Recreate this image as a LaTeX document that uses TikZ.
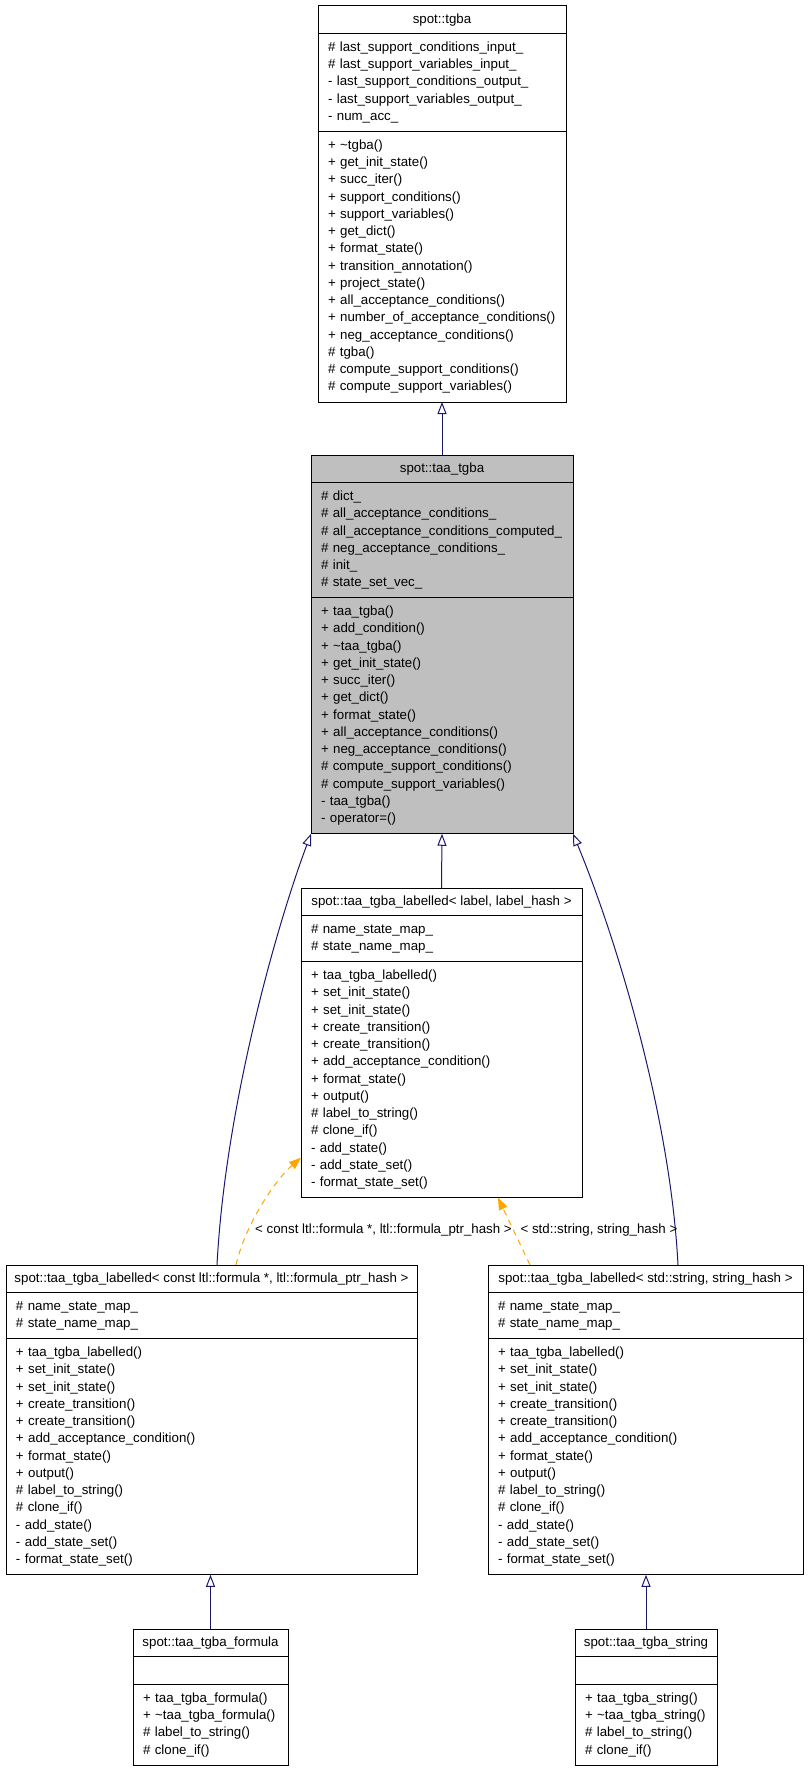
\documentclass[tikz,border=0pt]{standalone}
\usepackage{fontspec}
\setmainfont{Liberation Sans}
\usetikzlibrary{positioning,arrows.meta}
\definecolor{edgeblue}{RGB}{25,25,112}
\definecolor{tmplorange}{RGB}{255,165,0}
% members shared by the three labelled classes
\newcommand{\lblattrs}{\#~name\_state\_map\_\\ \#~state\_name\_map\_}
\newcommand{\lblops}{+~taa\_tgba\_labelled()\\ +~set\_init\_state()\\ +~set\_init\_state()\\
  +~create\_transition()\\ +~create\_transition()\\ +~add\_acceptance\_condition()\\
  +~format\_state()\\ +~output()\\ \#~label\_to\_string()\\ \#~clone\_if()\\
  -~add\_state()\\ -~add\_state\_set()\\ -~format\_state\_set()}
\begin{document}
\begin{tikzpicture}[x=1pt, y=-1pt, line width=1pt,
  font=\fontsize{13.3}{17.25}\selectfont,
  title/.style={draw, minimum width=#1, minimum height=27.5pt, inner xsep=2pt, inner ysep=0pt, outer sep=0pt},
  part/.style={draw, text width=#1, inner xsep=10pt, inner ysep=0pt, outer sep=0pt, align=left},
  isa/.style={edgeblue, -{Triangle[open, length=12pt, width=9pt]}},
  tmpl/.style={tmplorange, dash pattern=on 6pt off 5pt, -{Triangle[length=12pt, width=9pt]}}]
\useasboundingbox (0,0) rectangle (808,1771);

% spot::tgba
\node[title=248pt, anchor=north] (tgba) at (442,6) {spot::tgba};
\node[part=228pt, minimum height=98pt, below=0pt of tgba] (tgba-a) {\#~last\_support\_conditions\_input\_\\
  \#~last\_support\_variables\_input\_\\ -~last\_support\_conditions\_output\_\\
  -~last\_support\_variables\_output\_\\ -~num\_acc\_};
\node[part=228pt, minimum height=270.5pt, below=0pt of tgba-a] (tgba-m) {+~\textasciitilde tgba()\\
  +~get\_init\_state()\\ +~succ\_iter()\\ +~support\_conditions()\\ +~support\_variables()\\
  +~get\_dict()\\ +~format\_state()\\ +~transition\_annotation()\\ +~project\_state()\\
  +~all\_acceptance\_conditions()\\ +~number\_of\_acceptance\_conditions()\\
  +~neg\_acceptance\_conditions()\\ \#~tgba()\\ \#~compute\_support\_conditions()\\
  \#~compute\_support\_variables()};

% spot::taa_tgba
\node[title=262pt, fill=gray!50, anchor=north] (taa) at (442,455) {spot::taa\_tgba};
\node[part=242pt, fill=gray!50, minimum height=115.25pt, below=0pt of taa] (taa-a) {\#~dict\_\\
  \#~all\_acceptance\_conditions\_\\ \#~all\_acceptance\_conditions\_computed\_\\
  \#~neg\_acceptance\_conditions\_\\ \#~init\_\\ \#~state\_set\_vec\_};
\node[part=242pt, fill=gray!50, minimum height=236pt, below=0pt of taa-a] (taa-m) {+~taa\_tgba()\\
  +~add\_condition()\\ +~\textasciitilde taa\_tgba()\\ +~get\_init\_state()\\ +~succ\_iter()\\
  +~get\_dict()\\ +~format\_state()\\ +~all\_acceptance\_conditions()\\
  +~neg\_acceptance\_conditions()\\ \#~compute\_support\_conditions()\\
  \#~compute\_support\_variables()\\ -~taa\_tgba()\\ -~operator=()};

% labelled template
\node[title=281pt, anchor=north] (lab) at (441.5,888) {spot::taa\_tgba\_labelled< label, label\_hash >};
\node[part=261pt, minimum height=46.25pt, below=0pt of lab] (lab-a) {\lblattrs};
\node[part=261pt, minimum height=236pt, below=0pt of lab-a] (lab-m) {\lblops};

% labelled instances
\node[title=411pt, anchor=north] (labf) at (211.5,1265) {spot::taa\_tgba\_labelled< const ltl::formula *, ltl::formula\_ptr\_hash >};
\node[part=391pt, minimum height=46.25pt, below=0pt of labf] (labf-a) {\lblattrs};
\node[part=391pt, minimum height=236pt, below=0pt of labf-a] (labf-m) {\lblops};

\node[title=315pt, anchor=north] (labs) at (645.5,1265) {spot::taa\_tgba\_labelled< std::string, string\_hash >};
\node[part=295pt, minimum height=46.25pt, below=0pt of labs] (labs-a) {\lblattrs};
\node[part=295pt, minimum height=236pt, below=0pt of labs-a] (labs-m) {\lblops};

% leaves
\node[title=155pt, anchor=north] (form) at (210.5,1629) {spot::taa\_tgba\_formula};
\node[part=135pt, minimum height=28pt, below=0pt of form] (form-a) {};
\node[part=135pt, minimum height=80.75pt, below=0pt of form-a] (form-m) {+~taa\_tgba\_formula()\\
  +~\textasciitilde taa\_tgba\_formula()\\ \#~label\_to\_string()\\ \#~clone\_if()};

\node[title=142pt, anchor=north] (str) at (646,1629) {spot::taa\_tgba\_string};
\node[part=122pt, minimum height=28pt, below=0pt of str] (str-a) {};
\node[part=122pt, minimum height=80.75pt, below=0pt of str-a] (str-m) {+~taa\_tgba\_string()\\
  +~\textasciitilde taa\_tgba\_string()\\ \#~label\_to\_string()\\ \#~clone\_if()};

% inheritance
\draw[isa] (taa.north) -- (tgba-m.south);
\draw[isa] (lab.north) -- (taa-m.south);
\draw[isa] ([xshift=5.5pt]labf.north) .. controls (225,1110) and (275,930) .. (taa-m.south west);
\draw[isa] ([xshift=32.5pt]labs.north) .. controls (670,1110) and (613,930) .. (taa-m.south east);
\draw[isa] (form.north) -- (form.north |- labf-m.south);
\draw[isa] (str.north) -- (str.north |- labs-m.south);

% template instantiation
\draw[tmpl] ([xshift=24.5pt]labf.north) .. controls (245,1225) and (275,1180) .. ([yshift=40pt]lab-m.south west);
\draw[tmpl] ([xshift=-115.5pt]labs.north) -- ([xshift=56.5pt]lab-m.south);
\node (lblf) at (383.5,1230) {< const ltl::formula *, ltl::formula\_ptr\_hash >};
\node (lbls) at (599,1230) {< std::string, string\_hash >};
\end{tikzpicture}
\end{document}
